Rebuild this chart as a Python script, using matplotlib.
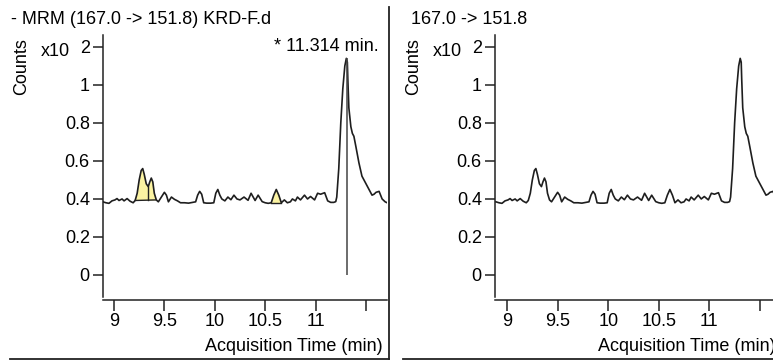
import matplotlib.pyplot as plt
import numpy as np
from matplotlib.lines import Line2D

plt.rcParams['font.family'] = ['Liberation Sans', 'DejaVu Sans']

# MRM 167.0 -> 151.8 chromatogram, counts in units of 10^2
time_min = [
    8.89, 8.92, 8.95, 8.98, 9.01, 9.03, 9.05, 9.08, 9.10, 9.13, 9.16, 9.19,
    9.21, 9.23, 9.25, 9.27, 9.285, 9.30, 9.32, 9.34, 9.355, 9.37, 9.385, 9.40,
    9.42, 9.44, 9.47, 9.50, 9.52, 9.54, 9.57, 9.60, 9.63, 9.66, 9.70, 9.74,
    9.78, 9.81, 9.83, 9.85, 9.87, 9.89, 9.92, 9.96, 9.99, 10.01, 10.03, 10.05,
    10.07, 10.10, 10.13, 10.16, 10.19, 10.22, 10.25, 10.29, 10.33, 10.36,
    10.40, 10.43, 10.47, 10.50, 10.53, 10.56, 10.585, 10.61, 10.635, 10.66,
    10.69, 10.72, 10.75, 10.77, 10.80, 10.82, 10.85, 10.89, 10.92, 10.95,
    10.99, 11.02, 11.05, 11.09, 11.12, 11.15, 11.18, 11.20, 11.21, 11.23,
    11.25, 11.27, 11.29, 11.305, 11.315, 11.32, 11.33, 11.35, 11.365, 11.38,
    11.40, 11.43, 11.46, 11.48, 11.50, 11.53, 11.56, 11.58, 11.60, 11.63,
    11.66, 11.69, 11.71,
]
counts = [
    0.385, 0.380, 0.377, 0.390, 0.395, 0.402, 0.392, 0.400, 0.390, 0.402, 0.388, 0.380,
    0.392, 0.430, 0.500, 0.550, 0.560, 0.530, 0.480, 0.465, 0.490, 0.510, 0.490, 0.430,
    0.395, 0.385, 0.410, 0.435, 0.420, 0.385, 0.410, 0.398, 0.390, 0.380, 0.380, 0.378,
    0.382, 0.385, 0.420, 0.440, 0.425, 0.380, 0.378, 0.378, 0.380, 0.430, 0.450, 0.420,
    0.400, 0.390, 0.410, 0.396, 0.420, 0.400, 0.395, 0.410, 0.393, 0.430,
    0.392, 0.420, 0.386, 0.380, 0.377, 0.380, 0.420, 0.450, 0.420, 0.380,
    0.395, 0.380, 0.385, 0.400, 0.390, 0.410, 0.395, 0.420, 0.400, 0.413,
    0.395, 0.430, 0.425, 0.433, 0.390, 0.382, 0.382, 0.386, 0.410, 0.560,
    0.800, 0.980, 1.100, 1.140, 1.120, 1.030, 0.880, 0.780, 0.745, 0.730,
    0.675, 0.590, 0.520, 0.500, 0.480, 0.450, 0.420, 0.425, 0.435, 0.440,
    0.400, 0.385, 0.380,
]

peak_rt = 11.314
peak_height = 1.14
# integrated peaks (start, end) and drop-line split times
integrated = [(9.21, 9.42), (10.56, 10.66)]
drop_lines = [9.34]

x_ticks = [9, 9.5, 10, 10.5, 11, 11.5]
x_tick_labels = ['9', '9.5', '10', '10.5', '11', '']
y_ticks = [0, 0.2, 0.4, 0.6, 0.8, 1.0, 1.2]
y_tick_labels = ['0', '0.2', '0.4', '0.6', '0.8', '1', '2']

titles = ['- MRM (167.0 -> 151.8) KRD-F.d', '167.0 -> 151.8']

W, H = 773, 363
FS = 13
fig = plt.figure(figsize=(W / 100, H / 100), dpi=100)

t = np.array(time_min)
c = np.array(counts)


def px_axes(left, top, right, bottom):
    return fig.add_axes([left / W, 1 - bottom / H, (right - left) / W, (bottom - top) / H])


def style_axes(ax, x0, title, title_x):
    ax.plot(t, c, color='#1e1e1e', lw=1.2)
    ax.set_xlim(x0, x0 + 284 / 100.8)
    ax.set_ylim(-0.116, 1.263)
    for s in ('top', 'right'):
        ax.spines[s].set_visible(False)
    ax.spines['bottom'].set_position(('outward', 2.2))
    for s in ('left', 'bottom'):
        ax.spines[s].set_linewidth(1.1)
        ax.spines[s].set_color('#222222')
    ax.set_xticks(x_ticks, x_tick_labels)
    ax.set_yticks(y_ticks, y_tick_labels)
    ax.tick_params(axis='x', length=8, width=1.1, pad=1.5, labelsize=FS, color='#222222')
    ax.tick_params(axis='y', length=7, width=1.1, pad=2.5, labelsize=FS, color='#222222')
    # top tick label "2" doubles as the exponent of the x10 multiplier
    ax.text(-0.115, 1.175, 'x10', transform=ax.get_yaxis_transform(), ha='right',
            va='center', fontsize=FS)
    ax.text(-0.285, 0.88, 'Counts', transform=ax.transAxes, rotation=90,
            ha='center', va='center', fontsize=FS)
    ax.text(0.983, -0.19, 'Acquisition Time (min)', transform=ax.transAxes,
            ha='right', va='center', fontsize=FS)
    fig.text(title_x / W, 1 - 20 / H, title, ha='left', va='center', fontsize=FS)


# left panel with integrated peaks
ax1 = px_axes(103, 35, 387, 297)
style_axes(ax1, 8.891, titles[0], 11)
for start, end in integrated:
    base = np.interp([start, end], t, c)
    xs = np.concatenate([[start], t[(t > start) & (t < end)], [end]])
    ys = np.interp(xs, t, c)
    bl = np.interp(xs, [start, end], base)
    ax1.fill_between(xs, bl, ys, color='#fbf3a2', lw=0, zorder=1)
    ax1.plot([start, end], base, color='#222222', lw=1.0, zorder=2)
for dl in drop_lines:
    yv = np.interp(dl, t, c)
    ax1.plot([dl, dl], [0.394, yv], color='#222222', lw=1.0, zorder=2)
ax1.vlines(peak_rt, 0, peak_height, color='#444444', lw=1.1, zorder=3)
ax1.text(0.972, 0.955, '* %.3f min.' % peak_rt, transform=ax1.transAxes,
         ha='right', va='center', fontsize=FS)

# right panel, same trace without integration
ax2 = px_axes(495, 35, 780, 297)
style_axes(ax2, 8.881, titles[1], 411)

# panel frames
frame = dict(color='#222222', lw=1.3, transform=fig.transFigure)
fig.add_artist(Line2D([389 / W, 389 / W], [1 - 7 / H, 1 - 359 / H], **frame))
fig.add_artist(Line2D([10 / W, 389 / W], [1 - 359 / H, 1 - 359 / H], **frame))
fig.add_artist(Line2D([403 / W, 1.0], [1 - 359 / H, 1 - 359 / H], **frame))

fig.savefig('out.png', dpi=100)
